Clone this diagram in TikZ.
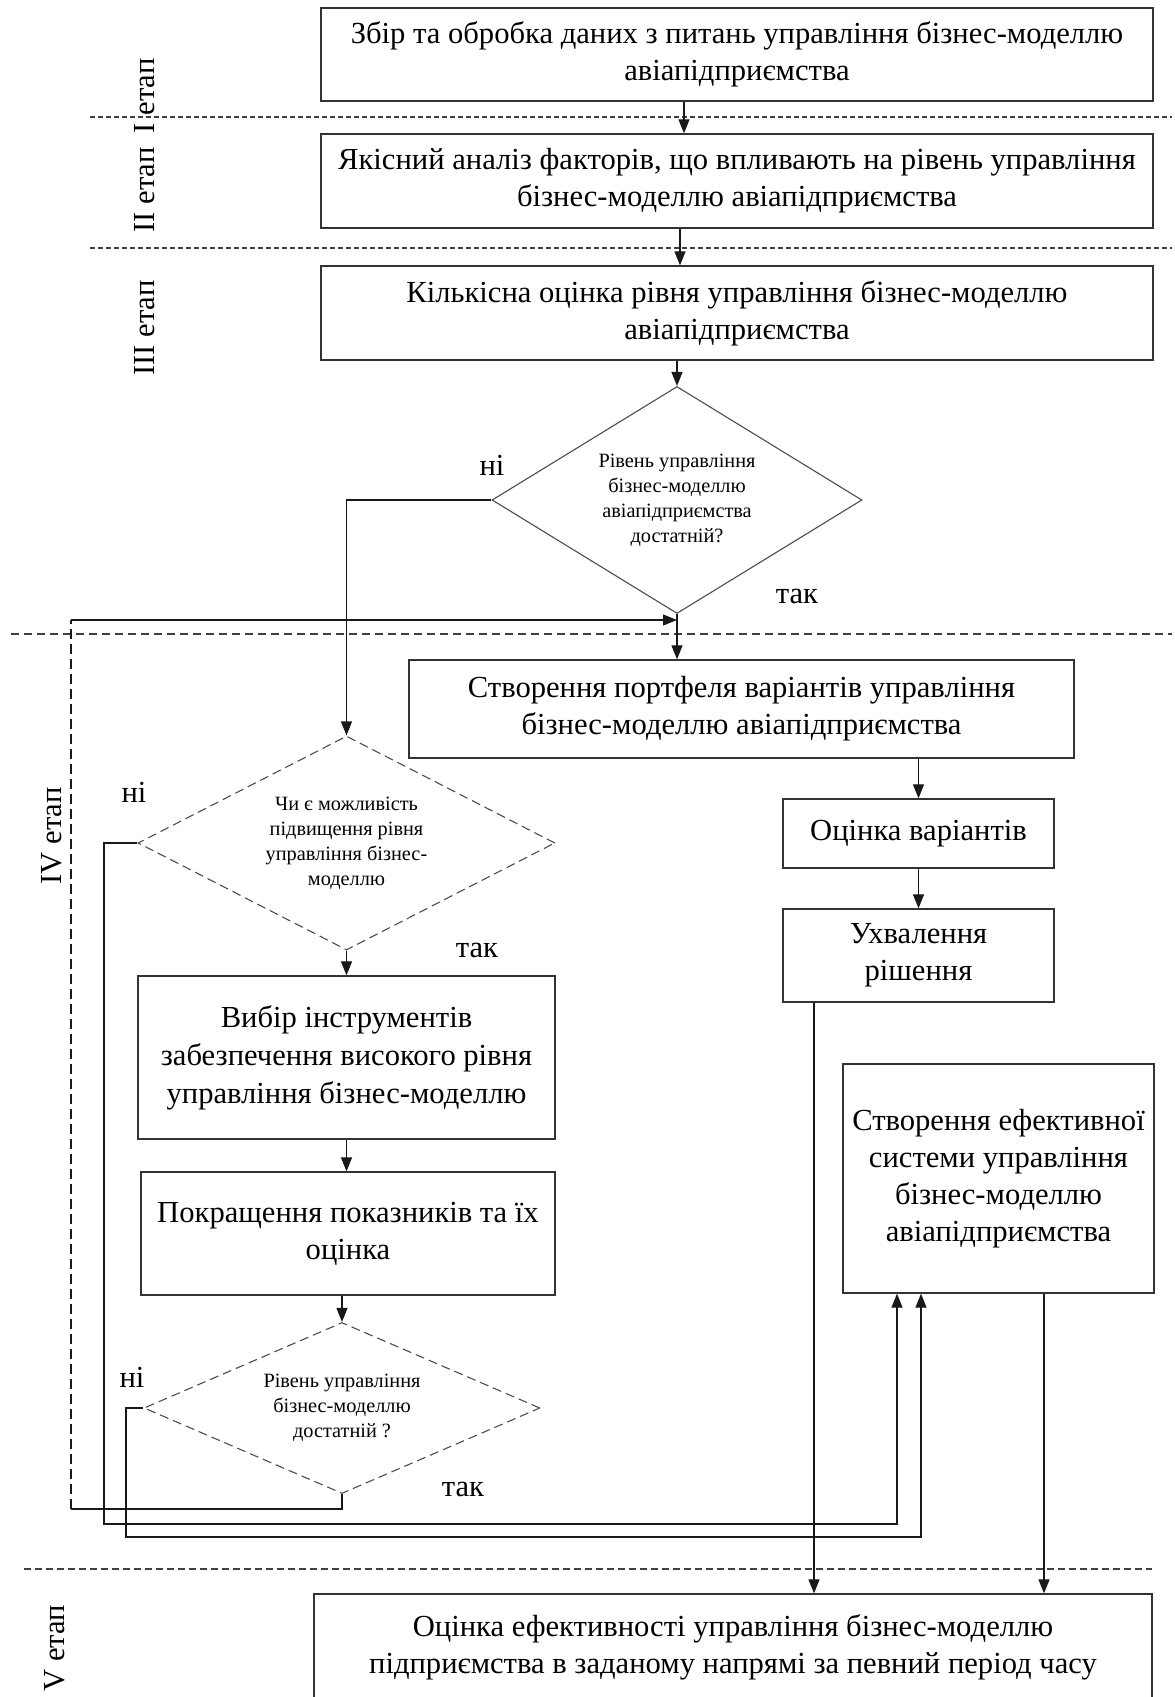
\documentclass[tikz,border=0pt]{standalone}
\usepackage{fontspec}
\setmainfont{Liberation Serif}
\usetikzlibrary{shapes.geometric,arrows.meta}

\tikzset{
  every picture/.style={line join=miter},
  bigtext/.style={font=\fontsize{30.6}{37}\selectfont},
  smalltext/.style={font=\fontsize{20.3}{25}\selectfont},
  stepbox/.style={draw=black!80, line width=1.3pt, rectangle, inner sep=0pt,
    align=center, bigtext},
  decision/.style={draw=black!70, line width=1.1pt, diamond, inner sep=0pt,
    align=center, smalltext},
  dashdecision/.style={decision, dash pattern=on 9pt off 5pt},
  conn/.style={line width=1.2pt, draw=black!90},
  arr/.style={conn, -{Triangle[length=14pt,width=11pt]}},
  sep/.style={line width=1.1pt, draw=black!75},
  answer/.style={bigtext, inner sep=0pt},
  stage/.style={bigtext, rotate=90, inner sep=0pt},
}

\begin{document}
\begin{tikzpicture}[x=1pt,y=-1pt]
\path[use as bounding box] (0,0) rectangle (1175,1697);
\clip (0,0) rectangle (1175,1697);

% stage separators
\draw[sep, dash pattern=on 5pt off 3pt] (90,117) -- (1172,117);
\draw[sep, dash pattern=on 5pt off 3pt] (90,248) -- (1172,248);
\draw[sep, dash pattern=on 8pt off 5pt] (11,634) -- (1172,634);
\draw[sep, dash pattern=on 7pt off 4pt] (24,1569) -- (1152,1569);

% stage labels
\node[stage] (st1) at (145,96) {І етап};
\node[stage] (st2) at (145,190) {ІІ етап};
\node[stage] (st3) at (145,328) {ІІІ етап};
\node[stage] (st4) at (52,836) {IV етап};
\node[stage] (st5) at (55,1648) {V етап};

% stages I--III
\node[stepbox, minimum width=832pt, minimum height=93pt] (b1) at (737,54.5)
  {Збір та обробка даних з питань управління бізнес-моделлю\\авіапідприємства};
\node[stepbox, minimum width=832pt, minimum height=94pt] (b2) at (737,181)
  {Якісний аналіз факторів, що впливають на рівень управління\\бізнес-моделлю авіапідприємства};
\node[stepbox, minimum width=832pt, minimum height=94pt] (b3) at (737,313)
  {Кількісна оцінка рівня управління бізнес-моделлю\\авіапідприємства};
\node[decision, aspect=1.63, minimum width=370pt, minimum height=227pt] (d1) at (677,500)
  {Рівень управління\\бізнес-моделлю\\авіапідприємства\\достатній?};

% stage IV, right branch
\node[stepbox, minimum width=665pt, minimum height=98pt] (b4) at (741.5,709)
  {Створення портфеля варіантів управління\\бізнес-моделлю авіапідприємства};
\node[stepbox, minimum width=271pt, minimum height=69pt] (b5) at (918.5,833.5)
  {Оцінка варіантів};
\node[stepbox, minimum width=271pt, minimum height=93pt] (b6) at (918.5,955.5)
  {Ухвалення\\рішення};
\node[stepbox, minimum width=311pt, minimum height=229pt] (b7) at (998.5,1178.5)
  {Створення ефективної\\системи управління\\бізнес-моделлю\\авіапідприємства};

% stage IV, left branch
\node[dashdecision, aspect=1.95, minimum width=417pt, minimum height=214pt] (d2) at (346.5,843)
  {Чи є можливість\\підвищення рівня\\управління бізнес-\\моделлю};
\node[stepbox, font=\fontsize{30.6}{38}\selectfont, minimum width=417pt, minimum height=163pt] (b8) at (346.5,1057.5)
  {Вибір інструментів\\забезпечення високого рівня\\управління бізнес-моделлю};
\node[stepbox, minimum width=414pt, minimum height=123pt] (b9) at (348,1233.5)
  {Покращення показників та їх\\оцінка};
\node[dashdecision, aspect=2.32, minimum width=396pt, minimum height=171pt] (d3) at (342,1408)
  {Рівень управління\\бізнес-моделлю\\достатній ?};

% stage V
\node[stepbox, minimum width=838pt, minimum height=106pt] (bf) at (733,1647)
  {Оцінка ефективності управління бізнес-моделлю\\підприємства в заданому напрямі за певний період часу};

% answers
\node[answer] (n1) at (492,465) {ні};
\node[answer] (y1) at (797,596) {так};
\node[answer] (n2) at (134,792) {ні};
\node[answer] (y2) at (477,950) {так};
\node[answer] (n3) at (132,1377) {ні};
\node[answer] (y3) at (463,1489) {так};

% guide columns and bends
\coordinate (colA) at (684,0);
\coordinate (colB) at (680,0);
\coordinate (colC) at (814,0);
\coordinate (colD) at (1044,0);
\coordinate (lpA) at (71,1509);
\coordinate (lpB) at (71,620);
\coordinate (lpC) at (104,1524);
\coordinate (lpD) at (897,1524);
\coordinate (lpE) at (126,1537);
\coordinate (lpF) at (921,1537);

% main flow
\draw[arr] (b1.south -| colA) -- (b2.north -| colA);
\draw[arr] (b2.south -| colB) -- (b3.north -| colB);
\draw[arr] (b3.south -| d1.north) -- (d1.north);
\draw[arr] (d1.west) -| (d2.north);
\draw[arr] (d1.south) -- (b4.north -| d1.south);
\draw[arr] (b4.south -| b5.north) -- (b5.north);
\draw[arr] (b5.south) -- (b6.north);
\draw[arr] (b6.south -| colC) -- (bf.north -| colC);
\draw[arr] (b7.south -| colD) -- (bf.north -| colD);
\draw[arr] (d2.south) -- (b8.north);
\draw[arr] (b8.south) -- (b8.south |- b9.north);
\draw[arr] (b9.south -| d3.north) -- (d3.north);

% feedback loops
\draw[conn] (d3.south) |- (lpA);
\draw[conn, dash pattern=on 10pt off 5pt] (lpA) -- (lpB);
\draw[arr] (lpB) -- (lpB -| d1.south);
\draw[arr] (d2.west) -| (lpC) -- (lpD) -- (lpD |- b7.south);
\draw[arr] (d3.west) -| (lpE) -- (lpF) -- (lpF |- b7.south);
\end{tikzpicture}
\end{document}
